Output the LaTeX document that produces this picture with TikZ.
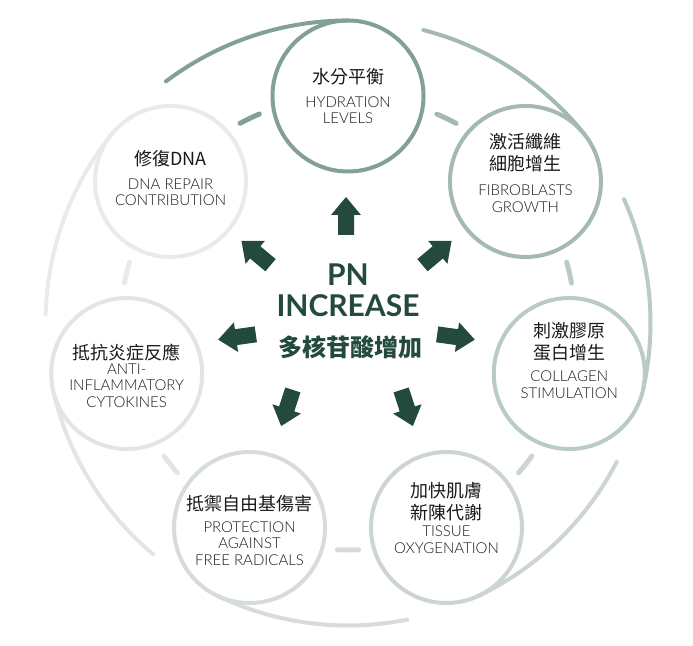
\documentclass[tikz,border=0pt]{standalone}
\usepackage{fontspec}
\usetikzlibrary{calc}
\newfontfamily\enfont{Lato Light}
\newfontfamily\latofont{Lato}
\newfontfamily\zhfont{Noto Sans CJK TC}
\definecolor{ringA}{HTML}{82A096}
\definecolor{ringB}{HTML}{A3B9B1}
\definecolor{ringC}{HTML}{BACAC4}
\definecolor{ringD}{HTML}{CBD5D1}
\definecolor{ringE}{HTML}{D5DCD9}
\definecolor{ringF}{HTML}{E1E6E4}
\definecolor{ringG}{HTML}{E7EBE9}
\definecolor{pngreen}{HTML}{244A3E}
\tikzset{
  bubble/.style={circle, draw=#1, line width=4pt, minimum size=151pt, inner sep=0pt},
  sweep/.style={draw=#1, line width=4pt, line cap=round},
  link/.style={draw=#1, line width=5pt, line cap=round},
  zhtxt/.style={font=\zhfont\fontsize{18}{22}\selectfont, text=black!90, align=center, inner sep=0pt},
  entxt/.style={font=\enfont\fontsize{15}{16.5}\selectfont, text=black!90, align=center, inner sep=0pt},
  centertxt/.style={font=\latofont\bfseries\fontsize{30}{30}\selectfont, text=pngreen, inner sep=0pt},
}
\begin{document}
\begin{tikzpicture}[x=1pt,y=1pt]
  \useasboundingbox (0,0) rectangle (693,645);
  \coordinate (ctr) at (348,322);
  % outer sweeps, short links and the seven circles
  \foreach \nm/\ang/\col in {hydr/90/ringA, fibro/38.57/ringB, coll/-12.86/ringC, tiss/-64.29/ringD, prot/-115.71/ringE, anti/-167.14/ringF, dna/141.43/ringG}{
    \pgfmathsetmacro\sweepfrom{\ang+37}
    \pgfmathsetmacro\linkfrom{\ang+28.4}
    \pgfmathsetmacro\linkto{\ang+23.0}
    \draw[sweep=\col] ($(ctr)+(\sweepfrom:302.5)$) arc[start angle=\sweepfrom, end angle=\ang, radius=302.5];
    \draw[link=\col] ($(ctr)+(\linkfrom:227)$) arc[start angle=\linkfrom, end angle=\linkto, radius=227];
    \node[bubble=\col] (\nm) at ($(ctr)+(\ang:227)$) {};
  }
  % texts in the circles
  \node[zhtxt] (hydr-zh) at ([yshift=19pt]hydr.center) {水分平衡};
  \node[entxt] (hydr-en) at ([yshift=-14pt]hydr.center) {HYDRATION\\LEVELS};
  \node[zhtxt] (fibro-zh) at ([yshift=29pt]fibro.center) {激活纖維\\細胞增生};
  \node[entxt] (fibro-en) at ([yshift=-17pt]fibro.center) {FIBROBLASTS\\GROWTH};
  \node[zhtxt] (coll-zh) at ([yshift=32pt]coll.center) {刺激膠原\\蛋白增生};
  \node[entxt] (coll-en) at ([yshift=-11pt]coll.center) {COLLAGEN\\STIMULATION};
  \node[zhtxt] (tiss-zh) at ([yshift=26pt]tiss.center) {加快肌膚\\新陳代謝};
  \node[entxt] (tiss-en) at ([yshift=-12pt]tiss.center) {TISSUE\\OXYGENATION};
  \node[zhtxt] (prot-zh) at ([yshift=24pt]prot.center) {抵禦自由基傷害};
  \node[entxt] (prot-en) at ([yshift=-16pt]prot.center) {PROTECTION\\AGAINST\\FREE RADICALS};
  \node[zhtxt] (anti-zh) at ([yshift=21pt]anti.center) {抵抗炎症反應};
  \node[entxt] (anti-en) at ([yshift=-12pt]anti.center) {ANTI-\\INFLAMMATORY\\CYTOKINES};
  \node[zhtxt] (dna-zh) at ([yshift=23pt]dna.center) {修復DNA};
  \node[entxt] (dna-en) at ([yshift=-11pt]dna.center) {DNA REPAIR\\CONTRIBUTION};
  % centre
  \node[centertxt] (pn) at (348,370) {PN};
  \node[centertxt] (incr) at (348,339) {INCREASE};
  \node[centertxt, font=\zhfont\bfseries\fontsize{24}{24}\selectfont] (pn-zh) at (350,298) {多核苷酸增加};
  % block arrows
  \foreach \px/\py/\ang in {346/429/90, 437/392/40, 456/308/-8, 407/237/-72, 287/237/-108, 237/308/188, 256/392/140}{
    \fill[pngreen, shift={(\px,\py)}, rotate=\ang] (-19,-8) -- (1,-8) -- (1,-15) -- (19,0) -- (1,15) -- (1,8) -- (-19,8) -- cycle;
  }
\end{tikzpicture}
\end{document}
